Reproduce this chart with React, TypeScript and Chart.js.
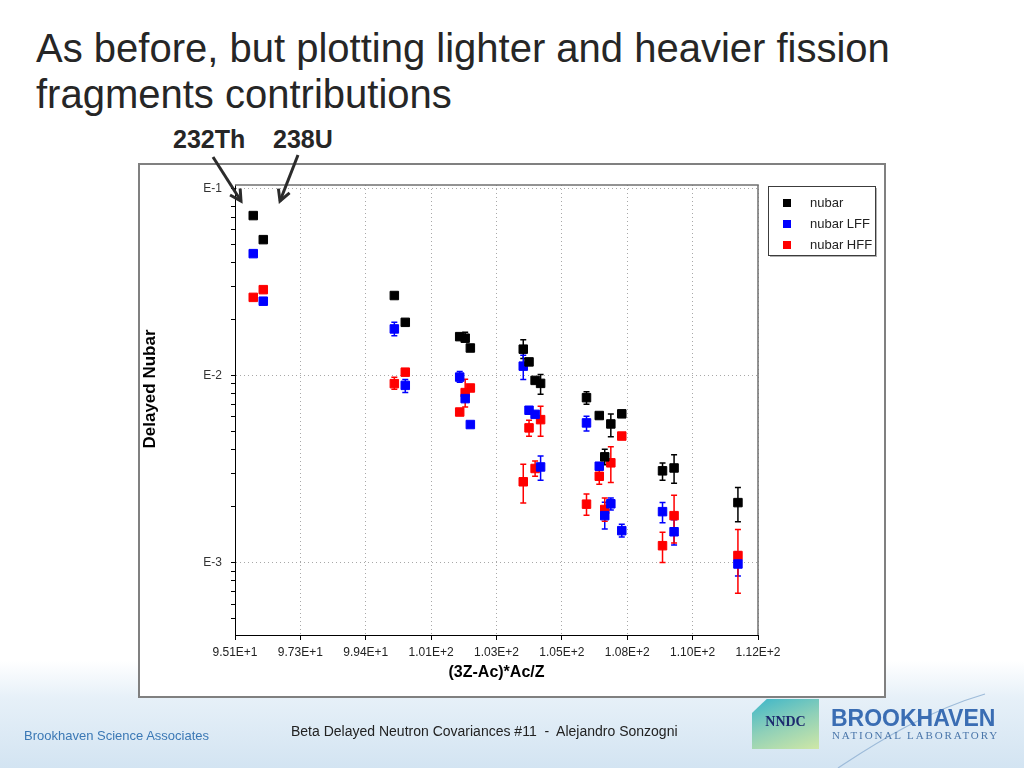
import React, { useEffect, useRef } from "react";
import { Chart, registerables } from "chart.js";

Chart.register(...registerables);

// ---------- data ----------
const xPositions = [
  95.7, 96.03, 100.34, 100.7, 102.49, 102.67, 102.84, 104.58, 104.77, 104.97,
  105.15, 106.66, 107.08, 107.26, 107.46, 107.82, 109.16, 109.54, 111.64,
];

const nubar = [
  0.0714, 0.0531, 0.0267, 0.0192, 0.0161, 0.0158, 0.014, 0.0138, 0.0118, 0.0094,
  0.00906, 0.0076, 0.0061, 0.00367, 0.0055, 0.00623, 0.00309, 0.0032, 0.00209,
];
const nubarLow = [
  null, null, null, null, null, 0.0151, null, 0.0123, null, null,
  0.00792, 0.00701, null, 0.00333, 0.0047, null, 0.00275, 0.00265, 0.00165,
];
const nubarHigh = [
  null, null, null, null, null, 0.017, null, 0.0155, null, null,
  0.0101, 0.00817, null, 0.00403, 0.00622, null, 0.0034, 0.00376, 0.00252,
];

const nubarLFF = [
  0.0447, 0.0249, 0.0177, 0.00884, 0.00979, 0.00751, 0.00546, 0.0112, 0.00651, 0.00619,
  0.00324, 0.00557, 0.00327, 0.00178, 0.00206, 0.00148, 0.00187, 0.00146, 0.000982,
];
const lffLow = [
  null, null, 0.0163, 0.0081, 0.0092, null, null, 0.0095, null, null,
  0.00275, 0.00505, null, 0.00151, 0.00191, 0.00137, 0.00163, 0.00124, 0.000847,
];
const lffHigh = [
  null, null, 0.0192, 0.0095, 0.0105, null, null, 0.0128, null, null,
  0.00371, 0.00604, null, 0.0021, 0.00221, 0.0016, 0.00209, 0.00169, 0.00114,
];

const nubarHFF = [
  0.0261, 0.0287, 0.00903, 0.0104, 0.00637, 0.00809, 0.00856, 0.0027, 0.00524, 0.00318,
  0.0058, 0.00205, 0.00289, 0.00192, 0.00341, 0.00474, 0.00123, 0.00178, 0.00109,
];
const hffLow = [
  null, null, 0.00842, null, null, 0.00678, null, 0.00208, 0.00473, 0.00289,
  0.00473, 0.00179, 0.00262, 0.00166, 0.00268, null, 0.001, 0.00127, 0.000685,
];
const hffHigh = [
  null, null, 0.00976, null, null, 0.00952, null, 0.00335, 0.00575, 0.00349,
  0.00684, 0.00232, 0.00317, 0.00221, 0.00415, null, 0.00145, 0.00229, 0.0015,
];

const seriesLabels = ["nubar", "nubar LFF", "nubar HFF"];
const seriesColors = ["#000000", "#0000ff", "#ff0000"];

const xTickValues = [95.1, 97.25, 99.4, 101.55, 103.7, 105.85, 108.0, 110.15, 112.3];
const xTickLabels = [
  "9.51E+1", "9.73E+1", "9.94E+1", "1.01E+2", "1.03E+2",
  "1.05E+2", "1.08E+2", "1.10E+2", "1.12E+2",
];
const yMajorTicks = [0.1, 0.01, 0.001];
const yMajorLabels = ["E-1", "E-2", "E-3"];
const yMinorTicks = [
  0.0005, 0.0006, 0.0007, 0.0008, 0.0009,
  0.002, 0.003, 0.004, 0.005, 0.006, 0.007, 0.008, 0.009,
  0.02, 0.03, 0.04, 0.05, 0.06, 0.07, 0.08, 0.09,
];

const FONT = "'Liberation Sans', Arial, Helvetica, sans-serif";

function majorIndex(v: number) {
  return yMajorTicks.findIndex((m) => Math.abs(v - m) / m < 1e-6);
}

const errorBarPlugin = {
  id: "errorBars",
  beforeDatasetsDraw(chart: any) {
    const { ctx } = chart;
    const xs = chart.scales.x;
    const ys = chart.scales.y;
    chart.data.datasets.forEach((ds: any, i: number) => {
      const meta = chart.getDatasetMeta(i);
      if (meta.hidden) return;
      ctx.save();
      ctx.strokeStyle = ds.errorColor;
      ctx.lineWidth = 1.5;
      ds.data.forEach((pt: any, j: number) => {
        const lo = ds.errLow[j];
        const hi = ds.errHigh[j];
        if (lo == null || hi == null) return;
        const px = xs.getPixelForValue(pt.x);
        const yl = ys.getPixelForValue(lo);
        const yh = ys.getPixelForValue(hi);
        ctx.beginPath();
        ctx.moveTo(px, yl);
        ctx.lineTo(px, yh);
        ctx.moveTo(px - 3, yl);
        ctx.lineTo(px + 3, yl);
        ctx.moveTo(px - 3, yh);
        ctx.lineTo(px + 3, yh);
        ctx.stroke();
      });
      ctx.restore();
    });
  },
};

const framePlugin = {
  id: "plotFrame",
  beforeDatasetsDraw(chart: any) {
    const { ctx, chartArea } = chart;
    ctx.save();
    ctx.strokeStyle = "#707070";
    ctx.lineWidth = 1.5;
    ctx.beginPath();
    ctx.moveTo(chartArea.left, chartArea.top);
    ctx.lineTo(chartArea.right, chartArea.top);
    ctx.lineTo(chartArea.right, chartArea.bottom);
    ctx.stroke();
    ctx.restore();
  },
};

const boxLegendPlugin = {
  id: "boxLegend",
  afterDraw(chart: any) {
    const { ctx, chartArea } = chart;
    const left = Math.round(chartArea.right) + 10.5;
    const top = Math.round(chartArea.top) + 1.5;
    const w = 107;
    const h = 69;
    ctx.save();
    ctx.fillStyle = "#b0b0b0";
    ctx.fillRect(left + 1.5, top + 1.5, w, h);
    ctx.fillStyle = "#ffffff";
    ctx.fillRect(left, top, w, h);
    ctx.strokeStyle = "#3c3c3c";
    ctx.lineWidth = 1;
    ctx.strokeRect(left, top, w, h);
    ctx.font = `13px ${FONT}`;
    ctx.textBaseline = "middle";
    ctx.textAlign = "left";
    chart.data.datasets.forEach((ds: any, i: number) => {
      const cy = top + 16.5 + i * 21;
      ctx.fillStyle = ds.backgroundColor;
      ctx.fillRect(left + 14.5, cy - 4, 8, 8);
      ctx.fillStyle = "#222222";
      ctx.fillText(ds.label, left + 41.5, cy);
    });
    ctx.restore();
  },
};

export default function App() {
  const canvasRef = useRef<HTMLCanvasElement>(null);

  useEffect(() => {
    const canvas = canvasRef.current;
    if (!canvas) return;
    const values = [nubar, nubarLFF, nubarHFF];
    const lows = [nubarLow, lffLow, hffLow];
    const highs = [nubarHigh, lffHigh, hffHigh];
    const datasets = seriesLabels.map((label, k) => ({
      label,
      data: xPositions.map((x, i) => ({ x, y: values[k][i] })),
      backgroundColor: seriesColors[k],
      borderColor: seriesColors[k],
      borderWidth: 1,
      pointStyle: "rect",
      pointRadius: 6,
      pointHoverRadius: 6,
      showLine: false,
      errorColor: seriesColors[k],
      errLow: lows[k],
      errHigh: highs[k],
    }));

    const chart = new Chart(canvas, {
      type: "scatter",
      data: { datasets } as any,
      options: {
        responsive: false,
        animation: false,
        layout: { padding: { top: 20, right: 126, left: 0, bottom: 0 } },
        plugins: {
          legend: { display: false },
          tooltip: { enabled: false },
        },
        scales: {
          x: {
            type: "linear",
            min: 95.1,
            max: 112.3,
            afterBuildTicks: (s: any) => {
              s.ticks = xTickValues.map((v) => ({ value: v }));
            },
            afterFit: (s: any) => {
              s.height = 61;
            },
            ticks: {
              autoSkip: false,
              maxRotation: 0,
              minRotation: 0,
              padding: 5,
              color: "#222222",
              font: { family: FONT, size: 12 },
              callback: (_v: any, i: number) => xTickLabels[i],
            },
            grid: {
              color: (c: any) => (c.index === 0 ? "rgba(0,0,0,0)" : "#a8a8a8"),
              lineWidth: 1,
              tickLength: 5,
              tickColor: "#000000",
              tickWidth: 1,
              tickBorderDash: [],
            },
            border: { color: "#000000", width: 1, dash: [1, 3] },
            title: {
              display: true,
              text: "(3Z-Ac)*Ac/Z",
              color: "#000000",
              font: { family: FONT, size: 16, weight: "bold" },
              padding: { top: 0, bottom: 14 },
            },
          },
          y: {
            type: "logarithmic",
            min: 0.00041,
            max: 0.104,
            afterBuildTicks: (s: any) => {
              const all = [...yMajorTicks, ...yMinorTicks].sort((a, b) => a - b);
              s.ticks = all.map((v) => ({ value: v, major: majorIndex(v) >= 0 }));
            },
            afterFit: (s: any) => {
              s.width = 95;
            },
            ticks: {
              autoSkip: false,
              padding: 9,
              color: "#333333",
              font: { family: FONT, size: 12 },
              callback: (v: any) => {
                const k = majorIndex(Number(v));
                return k >= 0 ? yMajorLabels[k] : "";
              },
            },
            grid: {
              color: (c: any) =>
                c.tick && majorIndex(c.tick.value) >= 0 ? "#a8a8a8" : "rgba(0,0,0,0)",
              lineWidth: 1,
              tickLength: 4,
              tickColor: "#000000",
              tickWidth: 1,
              tickBorderDash: [],
            },
            border: { color: "#000000", width: 1, dash: [1, 3] },
          },
        },
      } as any,
      plugins: [errorBarPlugin, framePlugin, boxLegendPlugin] as any,
    });
    return () => chart.destroy();
  }, []);

  return (
    <div
      style={{
        position: "absolute",
        left: 0,
        top: 0,
        width: 1024,
        height: 768,
        overflow: "hidden",
        fontFamily: FONT,
        background:
          "linear-gradient(180deg, #ffffff 0%, #ffffff 86%, #e6f0f8 91%, #d3e4f2 100%)",
      }}
    >
      <div
        style={{
          position: "absolute",
          left: 36,
          top: 25,
          fontSize: 40,
          lineHeight: "46px",
          color: "#262626",
          whiteSpace: "nowrap",
        }}
      >
        As before, but plotting lighter and heavier fission
        <br />
        fragments contributions
      </div>
      <div
        style={{
          position: "absolute",
          left: 173,
          top: 127,
          fontSize: 25,
          lineHeight: "25px",
          fontWeight: "bold",
          color: "#262626",
          whiteSpace: "nowrap",
        }}
      >
        232Th
      </div>
      <div
        style={{
          position: "absolute",
          left: 273,
          top: 127,
          fontSize: 25,
          lineHeight: "25px",
          fontWeight: "bold",
          color: "#262626",
          whiteSpace: "nowrap",
        }}
      >
        238U
      </div>

      <div
        style={{
          position: "absolute",
          left: 138,
          top: 163,
          width: 748,
          height: 535,
          border: "2px solid #808080",
          boxSizing: "border-box",
          background: "#ffffff",
        }}
      >
        <canvas ref={canvasRef} width={744} height={531} style={{ display: "block" }} />
      </div>

      <div
        style={{
          position: "absolute",
          left: 150,
          top: 389,
          transform: "translate(-50%, -50%) rotate(-90deg)",
          fontSize: 17,
          fontWeight: "bold",
          color: "#000000",
          whiteSpace: "nowrap",
        }}
      >
        Delayed Nubar
      </div>

      <svg
        width={1024}
        height={768}
        style={{ position: "absolute", left: 0, top: 0, pointerEvents: "none" }}
      >
        <defs>
          <marker
            id="ah"
            markerWidth="16"
            markerHeight="16"
            refX="13"
            refY="8"
            orient="auto"
            markerUnits="userSpaceOnUse"
          >
            <path d="M2,2 L13,8 L2,14" fill="none" stroke="#2b2b2b" strokeWidth="3" />
          </marker>
        </defs>
        <line x1={213} y1={157} x2={241} y2={201} stroke="#2b2b2b" strokeWidth={3} markerEnd="url(#ah)" />
        <line x1={298} y1={155} x2={280} y2={201} stroke="#2b2b2b" strokeWidth={3} markerEnd="url(#ah)" />
        <path d="M838,768 C880,740 930,710 985,694" fill="none" stroke="#9dbbd9" strokeWidth={1.2} />
      </svg>

      <div
        style={{
          position: "absolute",
          left: 24,
          top: 728,
          fontSize: 13,
          color: "#3b78b5",
          whiteSpace: "nowrap",
        }}
      >
        Brookhaven Science Associates
      </div>
      <div
        style={{
          position: "absolute",
          left: 291,
          top: 723,
          fontSize: 14,
          color: "#222222",
          whiteSpace: "pre",
        }}
      >
        {"Beta Delayed Neutron Covariances #11  -  Alejandro Sonzogni"}
      </div>

      <div
        style={{
          position: "absolute",
          left: 752,
          top: 699,
          width: 67,
          height: 50,
          clipPath: "polygon(22% 0, 100% 0, 100% 100%, 0 100%, 0 28%)",
          background: "linear-gradient(160deg, #3db6c9 0%, #8fd0b8 50%, #cfe7a6 100%)",
        }}
      />
      <div
        style={{
          position: "absolute",
          left: 752,
          top: 714,
          width: 67,
          textAlign: "center",
          fontFamily: "'Liberation Serif', 'Times New Roman', serif",
          fontWeight: "bold",
          fontSize: 14,
          color: "#1c2a6e",
        }}
      >
        NNDC
      </div>
      <div
        style={{
          position: "absolute",
          left: 831,
          top: 707,
          fontFamily: FONT,
          fontWeight: "bold",
          fontSize: 23,
          lineHeight: "23px",
          color: "#3a6db3",
          whiteSpace: "nowrap",
        }}
      >
        BROOKHAVEN
      </div>
      <div
        style={{
          position: "absolute",
          left: 832,
          top: 729,
          fontFamily: "'Liberation Serif', 'Times New Roman', serif",
          fontSize: 11,
          letterSpacing: 1.9,
          color: "#4a76aa",
          whiteSpace: "nowrap",
        }}
      >
        NATIONAL LABORATORY
      </div>
    </div>
  );
}
